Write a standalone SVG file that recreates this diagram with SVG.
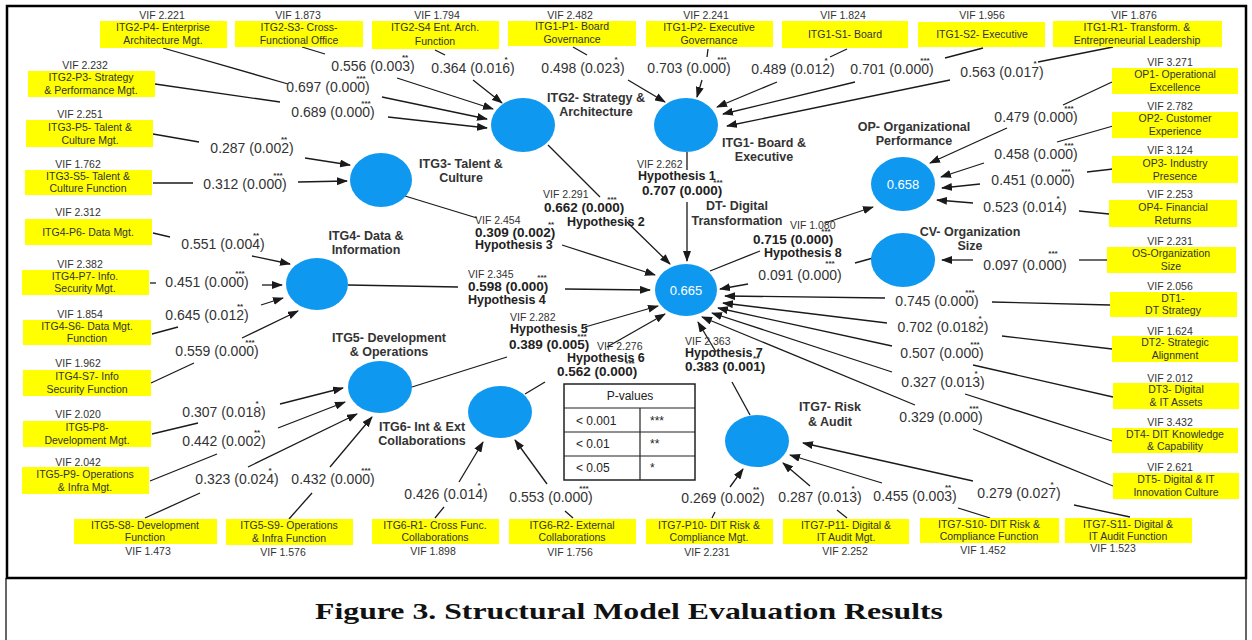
<svg xmlns="http://www.w3.org/2000/svg" width="1252" height="640" viewBox="0 0 1252 640">
<style>
.bx{fill:#ffff00}
.bt{font-family:"Liberation Sans",Arial,sans-serif;font-size:10.5px;fill:#333;text-anchor:middle}
.vf{font-family:"Liberation Sans",Arial,sans-serif;font-size:10.5px;fill:#333;text-anchor:middle}
.vl{font-family:"Liberation Sans",Arial,sans-serif;font-size:10.5px;fill:#333}
.cf{font-family:"Liberation Sans",Arial,sans-serif;font-size:14px;fill:#333;text-anchor:middle}
.hb{font-family:"Liberation Sans",Arial,sans-serif;font-size:13.5px;font-weight:bold;fill:#222}
.hy{font-family:"Liberation Sans",Arial,sans-serif;font-size:12.5px;font-weight:bold;fill:#222}
.st{font-family:"Liberation Sans",Arial,sans-serif;font-size:8px;font-weight:bold;fill:#333;text-anchor:middle}
.nd{fill:#0f98f0}
.nl{font-family:"Liberation Sans",Arial,sans-serif;font-size:12.5px;font-weight:bold;fill:#333;text-anchor:middle}
.nv{font-family:"Liberation Sans",Arial,sans-serif;font-size:13px;fill:#fff;text-anchor:middle}
.ln{stroke:#1a1a1a;stroke-width:1.3;fill:none}
.ar{marker-end:url(#ah)}
.tb{fill:#fff;stroke:#222;stroke-width:1.5}
.tt{font-family:"Liberation Sans",Arial,sans-serif;font-size:12px;fill:#222}
</style>
<defs>
<marker id="ah" markerUnits="userSpaceOnUse" markerWidth="11" markerHeight="8" refX="10" refY="4" orient="auto">
<path d="M0,0 L11,4 L0,8 z" fill="#1a1a1a"/>
</marker>
</defs>
<rect x="0" y="0" width="1252" height="640" fill="#fff"/>
<rect x="7" y="6" width="1239" height="572" fill="none" stroke="#000" stroke-width="2.5"/>
<line x1="6" y1="578" x2="6" y2="640" stroke="#000" stroke-width="1.2"/>
<line x1="1246" y1="578" x2="1246" y2="640" stroke="#000" stroke-width="1.2"/>

<g id="connectors">
<line class="ln" x1="163" y1="48" x2="288" y2="84"/><line class="ln ar" x1="382" y1="97" x2="487" y2="119"/>
<line class="ln" x1="302" y1="47" x2="325" y2="54"/><line class="ln ar" x1="397" y1="78" x2="493" y2="109"/>
<line class="ln" x1="155" y1="84" x2="280" y2="102"/><line class="ln ar" x1="388" y1="117" x2="487" y2="128"/>
<line class="ln" x1="435" y1="50" x2="445" y2="55"/><line class="ln ar" x1="473" y1="80" x2="502" y2="103"/>
<line class="ln" x1="573" y1="47" x2="587" y2="55"/><line class="ln ar" x1="628" y1="80" x2="665" y2="102"/>
<line class="ln" x1="708" y1="49" x2="707" y2="57"/><line class="ln ar" x1="702" y1="80" x2="697" y2="97"/>
<line class="ln" x1="847" y1="49" x2="830" y2="57"/><line class="ln ar" x1="777" y1="82" x2="717" y2="107"/>
<line class="ln" x1="983" y1="48" x2="945" y2="58"/><line class="ln ar" x1="855" y1="82" x2="723" y2="114"/>
<line class="ln" x1="1113" y1="47" x2="1038" y2="62"/><line class="ln ar" x1="950" y1="80" x2="727" y2="126"/>
<line class="ln" x1="153" y1="134" x2="199" y2="142"/><line class="ln ar" x1="305" y1="158" x2="350" y2="165"/>
<line class="ln" x1="153" y1="183" x2="193" y2="183"/><line class="ln ar" x1="298" y1="182" x2="347" y2="181"/>
<line class="ln" x1="153" y1="233" x2="170" y2="237"/><line class="ln ar" x1="252" y1="256" x2="290" y2="264"/>
<line class="ln" x1="150" y1="283" x2="156" y2="283"/><line class="ln ar" x1="262" y1="285" x2="282" y2="285"/>
<line class="ln" x1="152" y1="334" x2="178" y2="327"/><line class="ln ar" x1="261" y1="305" x2="283" y2="298"/>
<line class="ln" x1="151" y1="383" x2="194" y2="363"/><line class="ln ar" x1="242" y1="338" x2="298" y2="311"/>
<line class="ln" x1="152" y1="434" x2="198" y2="423"/><line class="ln ar" x1="280" y1="404" x2="343" y2="388"/>
<line class="ln" x1="150" y1="481" x2="217" y2="454"/><line class="ln ar" x1="278" y1="428" x2="345" y2="402"/>
<line class="ln" x1="145" y1="518" x2="200" y2="493"/><line class="ln ar" x1="248" y1="467" x2="357" y2="414"/>
<line class="ln" x1="289" y1="519" x2="312" y2="493"/><line class="ln ar" x1="330" y1="467" x2="372" y2="417"/>
<line class="ln" x1="435" y1="518" x2="444" y2="507"/><line class="ln ar" x1="459" y1="482" x2="483" y2="442"/>
<line class="ln" x1="573" y1="518" x2="565" y2="511"/><line class="ln ar" x1="547" y1="484" x2="515" y2="440"/>
<line class="ln" x1="712" y1="518" x2="715" y2="512"/><line class="ln ar" x1="730" y1="487" x2="743" y2="469"/>
<line class="ln" x1="847" y1="518" x2="837" y2="510"/><line class="ln ar" x1="810" y1="486" x2="783" y2="463"/>
<line class="ln" x1="990" y1="518" x2="958" y2="508"/><line class="ln ar" x1="882" y1="483" x2="790" y2="455"/>
<line class="ln" x1="1130" y1="517" x2="1074" y2="505"/><line class="ln ar" x1="973" y1="481" x2="803" y2="443"/>
<line class="ln" x1="1112" y1="82" x2="1063" y2="105"/><line class="ln ar" x1="1007" y1="128" x2="930" y2="163"/>
<line class="ln" x1="1113" y1="126" x2="1057" y2="142"/><line class="ln ar" x1="984" y1="163" x2="941" y2="177"/>
<line class="ln" x1="1113" y1="169" x2="1087" y2="172"/><line class="ln ar" x1="980" y1="184" x2="942" y2="188"/>
<line class="ln" x1="1109" y1="214" x2="1079" y2="211"/><line class="ln ar" x1="973" y1="203" x2="937" y2="200"/>
<line class="ln" x1="710" y1="271" x2="760" y2="251"/><line class="ln ar" x1="825" y1="223" x2="873" y2="207"/>
<line class="ln" x1="1108" y1="260" x2="1079" y2="260"/><line class="ln ar" x1="973" y1="260" x2="942" y2="260"/>
<line class="ln" x1="873" y1="258" x2="855" y2="263"/><line class="ln ar" x1="748" y1="284" x2="720" y2="289"/>
<line class="ln" x1="1110" y1="305" x2="992" y2="302"/><line class="ln ar" x1="885" y1="298" x2="725" y2="296"/>
<line class="ln" x1="1112" y1="349" x2="1002" y2="336"/><line class="ln ar" x1="887" y1="323" x2="723" y2="303"/>
<line class="ln" x1="1113" y1="397" x2="973" y2="365"/><line class="ln ar" x1="892" y1="346" x2="718" y2="308"/>
<line class="ln" x1="1112" y1="441" x2="965" y2="394"/><line class="ln ar" x1="892" y1="372" x2="712" y2="313"/>
<line class="ln" x1="1113" y1="486" x2="973" y2="429"/><line class="ln ar" x1="915" y1="405" x2="702" y2="317"/>
<line class="ln" x1="687" y1="152" x2="687" y2="170"/><line class="ln ar" x1="687" y1="202" x2="687" y2="261"/>
<line class="ln" x1="548" y1="145" x2="600" y2="197"/><line class="ln ar" x1="627" y1="222" x2="670" y2="264"/>
<line class="ln" x1="405" y1="196" x2="477" y2="218"/><line class="ln ar" x1="562" y1="245" x2="655" y2="275"/>
<line class="ln" x1="348" y1="285" x2="458" y2="287"/><line class="ln ar" x1="565" y1="289" x2="650" y2="290"/>
<line class="ln" x1="412" y1="387" x2="507" y2="357"/><line class="ln ar" x1="585" y1="327" x2="658" y2="306"/>
<line class="ln" x1="525" y1="394" x2="545" y2="382"/><line class="ln ar" x1="607" y1="347" x2="665" y2="314"/>
<line class="ln" x1="750" y1="415" x2="732" y2="382"/><line class="ln ar" x1="716" y1="352" x2="698" y2="322"/>
</g>

<g id="coef-labels">
<text class="cf" x="373" y="71">0.556 (0.003)</text><text class="st" x="405" y="60">**</text>
<text class="cf" x="328" y="92">0.697 (0.000)</text><text class="st" x="361" y="81">***</text>
<text class="cf" x="333" y="117">0.689 (0.000)</text><text class="st" x="366" y="106">***</text>
<text class="cf" x="252" y="153">0.287 (0.002)</text><text class="st" x="284" y="142">**</text>
<text class="cf" x="245" y="189">0.312 (0.000)</text><text class="st" x="278" y="178">***</text>
<text class="cf" x="473" y="73">0.364 (0.016)</text><text class="st" x="506" y="62">*</text>
<text class="cf" x="583" y="73">0.498 (0.023)</text><text class="st" x="616" y="62">*</text>
<text class="cf" x="689" y="73">0.703 (0.000)</text><text class="st" x="722" y="62">***</text>
<text class="cf" x="793" y="74">0.489 (0.012)</text><text class="st" x="826" y="63">*</text>
<text class="cf" x="892" y="74">0.701 (0.000)</text><text class="st" x="925" y="63">***</text>
<text class="cf" x="1002" y="77">0.563 (0.017)</text><text class="st" x="1035" y="66">*</text>
<text class="cf" x="1036" y="122">0.479 (0.000)</text><text class="st" x="1069" y="111">***</text>
<text class="cf" x="1036" y="159">0.458 (0.000)</text><text class="st" x="1069" y="148">***</text>
<text class="cf" x="1033" y="185">0.451 (0.000)</text><text class="st" x="1066" y="174">***</text>
<text class="cf" x="1025" y="212">0.523 (0.014)</text><text class="st" x="1058" y="201">*</text>
<text class="cf" x="1025" y="270">0.097 (0.000)</text><text class="st" x="1053" y="256">***</text>
<text class="cf" x="937" y="306">0.745 (0.000)</text><text class="st" x="970" y="295">***</text>
<text class="cf" x="943" y="332">0.702 (0.0182)</text><text class="st" x="980" y="321">*</text>
<text class="cf" x="942" y="358">0.507 (0.000)</text><text class="st" x="975" y="347">***</text>
<text class="cf" x="943" y="387">0.327 (0.013)</text><text class="st" x="976" y="376">*</text>
<text class="cf" x="941" y="422">0.329 (0.000)</text><text class="st" x="974" y="411">***</text>
<text class="cf" x="223" y="249">0.551 (0.004)</text><text class="st" x="256" y="238">**</text>
<text class="cf" x="207" y="287">0.451 (0.000)</text><text class="st" x="240" y="276">***</text>
<text class="cf" x="207" y="320">0.645 (0.012)</text><text class="st" x="240" y="309">**</text>
<text class="cf" x="217" y="356">0.559 (0.000)</text><text class="st" x="250" y="345">***</text>
<text class="cf" x="224" y="417">0.307 (0.018)</text><text class="st" x="257" y="406">*</text>
<text class="cf" x="224" y="446">0.442 (0.002)</text><text class="st" x="257" y="435">**</text>
<text class="cf" x="237" y="484">0.323 (0.024)</text><text class="st" x="270" y="473">*</text>
<text class="cf" x="333" y="484">0.432 (0.000)</text><text class="st" x="366" y="473">***</text>
<text class="cf" x="446" y="499">0.426 (0.014)</text><text class="st" x="479" y="488">*</text>
<text class="cf" x="551" y="502">0.553 (0.000)</text><text class="st" x="584" y="491">***</text>
<text class="cf" x="723" y="503">0.269 (0.002)</text><text class="st" x="756" y="492">**</text>
<text class="cf" x="820" y="502">0.287 (0.013)</text><text class="st" x="853" y="491">*</text>
<text class="cf" x="915" y="501">0.455 (0.003)</text><text class="st" x="948" y="490">**</text>
<text class="cf" x="1019" y="498">0.279 (0.027)</text><text class="st" x="1052" y="487">*</text>
<text class="cf" x="800" y="280">0.091 (0.000)</text><text class="st" x="830" y="266">***</text>
</g>

<g id="hypothesis-labels">
<text class="vl" x="637" y="168">VIF 2.262</text><text class="hy" x="638" y="180">Hypothesis 1</text><text class="hb" x="642" y="195">0.707 (0.000)</text><text class="st" x="718" y="185">***</text>
<text class="vl" x="543" y="198">VIF 2.291</text><text class="hb" x="544" y="212">0.662 (0.000)</text><text class="hy" x="567" y="226">Hypothesis 2</text><text class="st" x="612" y="202">***</text>
<text class="vl" x="475" y="224">VIF 2.454</text><text class="hb" x="475" y="237">0.309 (0.002)</text><text class="hy" x="475" y="249">Hypothesis 3</text><text class="st" x="551" y="227">**</text>
<text class="vl" x="468" y="278">VIF 2.345</text><text class="hb" x="468" y="291">0.598 (0.000)</text><text class="hy" x="468" y="304">Hypothesis 4</text><text class="st" x="542" y="280">***</text>
<text class="vl" x="510" y="321">VIF 2.282</text><text class="hy" x="510" y="333">Hypothesis 5</text><text class="hb" x="509" y="349">0.389 (0.005)</text><text class="st" x="582" y="339">***</text>
<text class="vl" x="597" y="350">VIF 2.276</text><text class="hy" x="567" y="362">Hypothesis 6</text><text class="hb" x="557" y="376">0.562 (0.000)</text><text class="st" x="630" y="366">***</text>
<text class="vl" x="685" y="345">VIF 2.363</text><text class="hy" x="685" y="357">Hypothesis 7</text><text class="hb" x="685" y="371">0.383 (0.001)</text><text class="st" x="756" y="361">**</text>
<text class="vl" x="790" y="229">VIF 1.080</text><text class="hb" x="753" y="244">0.715 (0.000)</text><text class="hy" x="764" y="257">Hypothesis 8</text><text class="st" x="826" y="234">***</text>
</g>

<g id="ITG2"><ellipse class="nd" cx="523" cy="125" rx="32" ry="27"/><text class="nl" x="596" y="102">ITG2- Strategy &amp;</text><text class="nl" x="596" y="116">Architecture</text></g>
<g id="ITG1"><ellipse class="nd" cx="686" cy="125" rx="32" ry="27"/><text class="nl" x="764" y="147">ITG1- Board &amp;</text><text class="nl" x="764" y="161">Executive</text></g>
<g id="ITG3"><ellipse class="nd" cx="381" cy="180" rx="31" ry="27"/><text class="nl" x="461" y="168">ITG3- Talent &amp;</text><text class="nl" x="461" y="182">Culture</text></g>
<g id="ITG4"><ellipse class="nd" cx="317" cy="284" rx="31" ry="26"/><text class="nl" x="366" y="240">ITG4- Data &amp;</text><text class="nl" x="366" y="254">Information</text></g>
<g id="ITG5"><ellipse class="nd" cx="380" cy="387" rx="32" ry="26"/><text class="nl" x="389" y="342">ITG5- Development</text><text class="nl" x="389" y="356">&amp; Operations</text></g>
<g id="ITG6"><ellipse class="nd" cx="500" cy="412" rx="32" ry="26"/><text class="nl" x="422" y="431">ITG6- Int &amp; Ext</text><text class="nl" x="422" y="445">Collaborations</text></g>
<g id="ITG7"><ellipse class="nd" cx="757" cy="441" rx="32" ry="26"/><text class="nl" x="830" y="411">ITG7- Risk</text><text class="nl" x="830" y="426">&amp; Audit</text></g>
<g id="DT"><ellipse class="nd" cx="686" cy="290" rx="31" ry="26"/><text class="nv" x="686" y="295">0.665</text><text class="nl" x="737" y="210">DT- Digital</text><text class="nl" x="737" y="225">Transformation</text></g>
<g id="OP"><ellipse class="nd" cx="903" cy="184" rx="32" ry="27"/><text class="nv" x="903" y="189">0.658</text><text class="nl" x="914" y="131">OP- Organizational</text><text class="nl" x="914" y="145">Performance</text></g>
<g id="CV"><ellipse class="nd" cx="903" cy="260" rx="32" ry="27"/><text class="nl" x="970" y="236">CV- Organization</text><text class="nl" x="970" y="250">Size</text></g>

<g id="ITG2-P4"><rect class="bx" x="100" y="21" width="127" height="27"/><text class="bt" x="163" y="31">ITG2-P4- Enterprise</text><text class="bt" x="163" y="44">Architecture Mgt.</text><text class="vf" x="162" y="19">VIF 2.221</text></g>
<g id="ITG2-S3"><rect class="bx" x="235" y="21" width="128" height="26"/><text class="bt" x="299" y="31">ITG2-S3- Cross-</text><text class="bt" x="299" y="44">Functional Office</text><text class="vf" x="298" y="19">VIF 1.873</text></g>
<g id="ITG2-S4"><rect class="bx" x="372" y="21" width="127" height="28"/><text class="bt" x="435" y="31">ITG2-S4 Ent. Arch.</text><text class="bt" x="435" y="45">Function</text><text class="vf" x="437" y="19">VIF 1.794</text></g>
<g id="ITG1-P1"><rect class="bx" x="508" y="21" width="128" height="25"/><text class="bt" x="572" y="30">ITG1-P1- Board</text><text class="bt" x="572" y="43">Governance</text><text class="vf" x="570" y="19">VIF 2.482</text></g>
<g id="ITG1-P2"><rect class="bx" x="646" y="21" width="127" height="26"/><text class="bt" x="709" y="31">ITG1-P2- Executive</text><text class="bt" x="709" y="44">Governance</text><text class="vf" x="706" y="19">VIF 2.241</text></g>
<g id="ITG1-S1"><rect class="bx" x="782" y="21" width="126" height="27"/><text class="bt" x="845" y="38">ITG1-S1- Board</text><text class="vf" x="843" y="19">VIF 1.824</text></g>
<g id="ITG1-S2"><rect class="bx" x="918" y="22" width="127" height="25"/><text class="bt" x="982" y="38">ITG1-S2- Executive</text><text class="vf" x="982" y="19">VIF 1.956</text></g>
<g id="ITG1-R1"><rect class="bx" x="1053" y="21" width="169" height="26"/><text class="bt" x="1137" y="31">ITG1-R1- Transform. &amp;</text><text class="bt" x="1137" y="44">Entrepreneurial Leadership</text><text class="vf" x="1134" y="19">VIF 1.876</text></g>

<g id="ITG2-P3"><rect class="bx" x="28" y="71" width="127" height="26"/><text class="bt" x="91" y="81">ITG2-P3- Strategy</text><text class="bt" x="91" y="94">&amp; Performance Mgt.</text><text class="vf" x="85" y="69">VIF 2.232</text></g>
<g id="ITG3-P5"><rect class="bx" x="26" y="120" width="127" height="27"/><text class="bt" x="90" y="131">ITG3-P5- Talent &amp;</text><text class="bt" x="90" y="144">Culture Mgt.</text><text class="vf" x="80" y="118">VIF 2.251</text></g>
<g id="ITG3-S5"><rect class="bx" x="25" y="170" width="127" height="25"/><text class="bt" x="88" y="180">ITG3-S5- Talent &amp;</text><text class="bt" x="88" y="192">Culture Function</text><text class="vf" x="78" y="168">VIF 1.762</text></g>
<g id="ITG4-P6"><rect class="bx" x="25" y="219" width="127" height="26"/><text class="bt" x="88" y="236">ITG4-P6- Data Mgt.</text><text class="vf" x="78" y="216">VIF 2.312</text></g>
<g id="ITG4-P7"><rect class="bx" x="22" y="270" width="127" height="25"/><text class="bt" x="85" y="280">ITG4-P7- Info.</text><text class="bt" x="85" y="292">Security Mgt.</text><text class="vf" x="80" y="268">VIF 2.382</text></g>
<g id="ITG4-S6"><rect class="bx" x="23" y="320" width="128" height="25"/><text class="bt" x="87" y="330">ITG4-S6- Data Mgt.</text><text class="bt" x="87" y="342">Function</text><text class="vf" x="80" y="318">VIF 1.854</text></g>
<g id="ITG4-S7"><rect class="bx" x="23" y="370" width="128" height="26"/><text class="bt" x="87" y="380">ITG4-S7- Info</text><text class="bt" x="87" y="393">Security Function</text><text class="vf" x="78" y="367">VIF 1.962</text></g>
<g id="ITG5-P8"><rect class="bx" x="23" y="421" width="128" height="26"/><text class="bt" x="87" y="431">ITG5-P8-</text><text class="bt" x="87" y="444">Development Mgt.</text><text class="vf" x="78" y="418">VIF 2.020</text></g>
<g id="ITG5-P9"><rect class="bx" x="22" y="467" width="127" height="27"/><text class="bt" x="85" y="478">ITG5-P9- Operations</text><text class="bt" x="85" y="491">&amp; Infra Mgt.</text><text class="vf" x="78" y="466">VIF 2.042</text></g>

<g id="ITG5-S8"><rect class="bx" x="74" y="519" width="143" height="25"/><text class="bt" x="145" y="529">ITG5-S8- Development</text><text class="bt" x="145" y="541">Function</text><text class="vf" x="148" y="555">VIF 1.473</text></g>
<g id="ITG5-S9"><rect class="bx" x="226" y="519" width="127" height="26"/><text class="bt" x="289" y="529">ITG5-S9- Operations</text><text class="bt" x="289" y="542">&amp; Infra Function</text><text class="vf" x="283" y="556">VIF 1.576</text></g>
<g id="ITG6-R1"><rect class="bx" x="372" y="519" width="127" height="25"/><text class="bt" x="435" y="529">ITG6-R1- Cross Func.</text><text class="bt" x="435" y="541">Collaborations</text><text class="vf" x="433" y="555">VIF 1.898</text></g>
<g id="ITG6-R2"><rect class="bx" x="509" y="519" width="127" height="25"/><text class="bt" x="572" y="529">ITG6-R2- External</text><text class="bt" x="572" y="541">Collaborations</text><text class="vf" x="570" y="556">VIF 1.756</text></g>
<g id="ITG7-P10"><rect class="bx" x="646" y="519" width="127" height="25"/><text class="bt" x="709" y="529">ITG7-P10- DIT Risk &amp;</text><text class="bt" x="709" y="541">Compliance Mgt.</text><text class="vf" x="707" y="556">VIF 2.231</text></g>
<g id="ITG7-P11"><rect class="bx" x="783" y="519" width="126" height="25"/><text class="bt" x="846" y="529">ITG7-P11- Digital &amp;</text><text class="bt" x="846" y="541">IT Audit Mgt.</text><text class="vf" x="845" y="555">VIF 2.252</text></g>
<g id="ITG7-S10"><rect class="bx" x="920" y="518" width="139" height="25"/><text class="bt" x="989" y="528">ITG7-S10- DIT Risk &amp;</text><text class="bt" x="989" y="540">Compliance Function</text><text class="vf" x="983" y="554">VIF 1.452</text></g>
<g id="ITG7-S11"><rect class="bx" x="1065" y="518" width="127" height="25"/><text class="bt" x="1128" y="528">ITG7-S11- Digital &amp;</text><text class="bt" x="1128" y="540">IT Audit Function</text><text class="vf" x="1113" y="552">VIF 1.523</text></g>

<g id="OP1"><rect class="bx" x="1112" y="68" width="126" height="26"/><text class="bt" x="1175" y="78">OP1- Operational</text><text class="bt" x="1175" y="91">Excellence</text><text class="vf" x="1170" y="66">VIF 3.271</text></g>
<g id="OP2"><rect class="bx" x="1112" y="112" width="126" height="26"/><text class="bt" x="1175" y="122">OP2- Customer</text><text class="bt" x="1175" y="135">Experience</text><text class="vf" x="1170" y="110">VIF 2.782</text></g>
<g id="OP3"><rect class="bx" x="1112" y="156" width="126" height="27"/><text class="bt" x="1175" y="167">OP3- Industry</text><text class="bt" x="1175" y="180">Presence</text><text class="vf" x="1170" y="154">VIF 3.124</text></g>
<g id="OP4"><rect class="bx" x="1109" y="200" width="128" height="27"/><text class="bt" x="1173" y="211">OP4- Financial</text><text class="bt" x="1173" y="224">Returns</text><text class="vf" x="1170" y="198">VIF 2.253</text></g>
<g id="OS"><rect class="bx" x="1107" y="247" width="129" height="26"/><text class="bt" x="1171" y="257">OS-Organization</text><text class="bt" x="1171" y="270">Size</text><text class="vf" x="1170" y="245">VIF 2.231</text></g>
<g id="DT1"><rect class="bx" x="1110" y="292" width="127" height="25"/><text class="bt" x="1173" y="302">DT1-</text><text class="bt" x="1173" y="314">DT Strategy</text><text class="vf" x="1170" y="290">VIF 2.056</text></g>
<g id="DT2"><rect class="bx" x="1112" y="336" width="126" height="26"/><text class="bt" x="1175" y="346">DT2- Strategic</text><text class="bt" x="1175" y="359">Alignment</text><text class="vf" x="1170" y="335">VIF 1.624</text></g>
<g id="DT3"><rect class="bx" x="1113" y="383" width="126" height="26"/><text class="bt" x="1176" y="393">DT3- Digital</text><text class="bt" x="1176" y="406">&amp; IT Assets</text><text class="vf" x="1170" y="382">VIF 2.012</text></g>
<g id="DT4"><rect class="bx" x="1112" y="428" width="126" height="25"/><text class="bt" x="1175" y="438">DT4- DIT Knowledge</text><text class="bt" x="1175" y="450">&amp; Capability</text><text class="vf" x="1170" y="426">VIF 3.432</text></g>
<g id="DT5"><rect class="bx" x="1113" y="473" width="126" height="26"/><text class="bt" x="1176" y="483">DT5- Digital &amp; IT</text><text class="bt" x="1176" y="496">Innovation Culture</text><text class="vf" x="1170" y="471">VIF 2.621</text></g>

<g id="pvalues-table">
<rect class="tb" x="564" y="384" width="131" height="96"/>
<line x1="564" y1="408" x2="695" y2="408" stroke="#222" stroke-width="1.2"/>
<line x1="564" y1="432" x2="695" y2="432" stroke="#222" stroke-width="1.2"/>
<line x1="564" y1="456" x2="695" y2="456" stroke="#222" stroke-width="1.2"/>
<line x1="640" y1="408" x2="640" y2="480" stroke="#222" stroke-width="1.2"/>
<text class="tt" x="630" y="400" text-anchor="middle">P-values</text>
<text class="tt" x="576" y="425">&lt; 0.001</text><text class="tt" x="650" y="425">***</text>
<text class="tt" x="576" y="448">&lt; 0.01</text><text class="tt" x="650" y="448">**</text>
<text class="tt" x="576" y="472">&lt; 0.05</text><text class="tt" x="650" y="472">*</text>
</g>

<text x="629" y="619" text-anchor="middle" font-family="Liberation Serif,'Times New Roman',serif" font-size="23" font-weight="bold" fill="#111" textLength="628" lengthAdjust="spacingAndGlyphs">Figure 3.  Structural Model Evaluation Results</text>
</svg>
